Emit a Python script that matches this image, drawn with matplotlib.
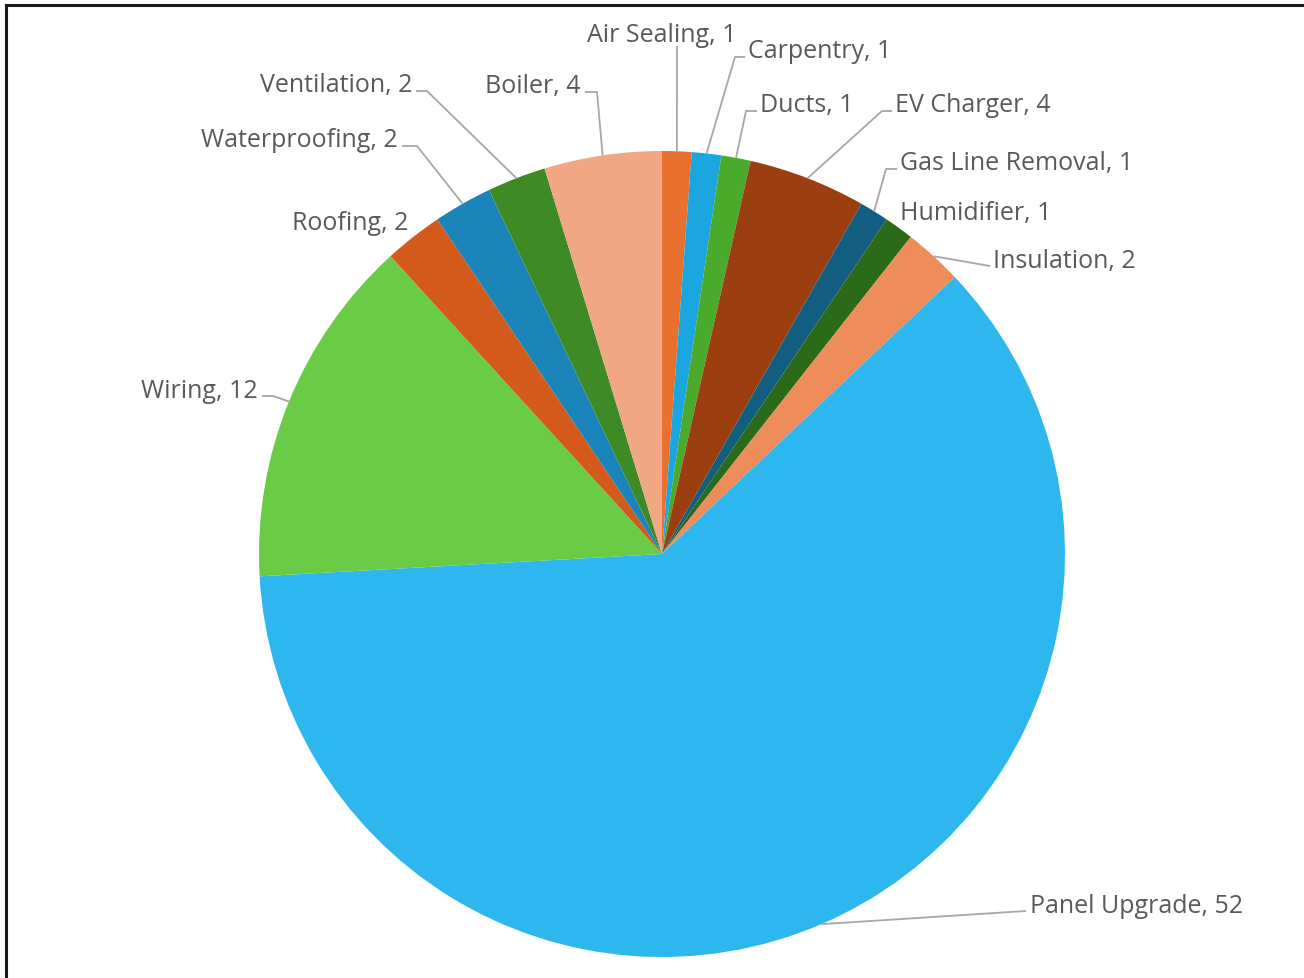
import matplotlib.pyplot as plt
import numpy as np
from matplotlib.lines import Line2D

W, H = 1304, 979

categories = [
    "Air Sealing", "Carpentry", "Ducts", "EV Charger", "Gas Line Removal",
    "Humidifier", "Insulation", "Panel Upgrade", "Wiring", "Roofing",
    "Waterproofing", "Ventilation", "Boiler",
]
counts = [1, 1, 1, 4, 1, 1, 2, 52, 12, 2, 2, 2, 4]
colors = [
    "#E8712F", "#1CA6E0", "#4AAA2C", "#9C3F10", "#115E80",
    "#2A6A18", "#EE8C5A", "#2DB7EE", "#6ACC46", "#D35A1A",
    "#1B84B8", "#3E8B26", "#F1A784",
]

# label placement in pixels: x, baseline y, alignment
label_xy = [
    (736, 42, "right"), (748, 58, "left"), (760, 112, "left"),
    (895, 112, "left"), (900, 170, "left"), (900, 220, "left"),
    (993, 268, "left"), (1030, 913, "left"), (258, 398, "right"),
    (408, 230, "right"), (398, 147, "right"), (412, 92, "right"),
    (580, 93, "right"),
]
# leader line bends (pixels) after the point on the wedge rim
leaders = [
    [(677, 47)], [(735, 58), (745, 58)], [(746, 112), (757, 112)],
    [(882, 112), (892, 112)], [(886, 170), (897, 170)], None,
    [(990, 267)], [(1026, 912)], [(273, 397), (262, 397)],
    None, [(417, 147), (402, 147)], [(427, 92), (416, 92)],
    [(597, 93), (585, 93)],
]

CX, CY, R = 662, H - 555, 403

plt.rcParams["font.family"] = ["Open Sans", "DejaVu Sans"]

fig = plt.figure(figsize=(W / 100, H / 100), dpi=100)
ax = fig.add_axes([0, 0, 1, 1])

wedges, _ = ax.pie(
    counts,
    colors=colors,
    startangle=90,
    counterclock=False,
    center=(CX, CY),
    radius=R,
    wedgeprops=dict(linewidth=0),
)

for w, name, n, (tx, ty, ha), lead in zip(wedges, categories, counts, label_xy, leaders):
    mid = np.deg2rad((w.theta1 + w.theta2) / 2)
    ex, ey = CX + R * np.cos(mid), CY + R * np.sin(mid)
    if lead:
        xs = [ex] + [p[0] for p in lead]
        ys = [ey] + [H - p[1] for p in lead]
        ax.plot(xs, ys, color="#A6A6A6", lw=1.3, solid_capstyle="butt")
    ax.text(tx, H - ty, f"{name}, {n}", ha=ha, va="baseline",
            fontsize=18, color="#595959")

ax.set_xlim(0, W)
ax.set_ylim(0, H)
ax.set_aspect("equal")
ax.axis("off")

# frame on the top and left edges
fig.add_artist(Line2D([6 / W, 6 / W], [0, 1 - 6 / H], transform=fig.transFigure,
                      color="#1A1A1A", lw=2.2))
fig.add_artist(Line2D([6 / W, 1], [1 - 6 / H, 1 - 6 / H], transform=fig.transFigure,
                      color="#1A1A1A", lw=2.2))

fig.savefig("out.png", dpi=100)
